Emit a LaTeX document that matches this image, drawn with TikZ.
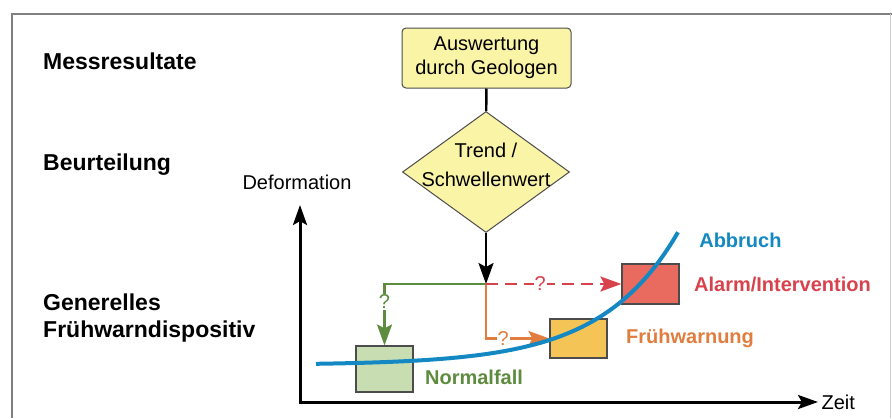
\documentclass[tikz,border=0pt]{standalone}
\usepackage{fontspec}
\setmainfont{Liberation Sans}
\usetikzlibrary{shapes.geometric,arrows.meta,positioning}
\definecolor{boxyellow}{HTML}{FAF4A6}
\definecolor{linegreen}{HTML}{5E8C3E}
\definecolor{fillgreen}{HTML}{C9DDB2}
\definecolor{lineorange}{HTML}{E07D3F}
\definecolor{fillorange}{HTML}{F5C457}
\definecolor{linered}{HTML}{D8424D}
\definecolor{fillred}{HTML}{E96B60}
\definecolor{curveblue}{HTML}{1488C2}
\tikzset{
  txt/.style={font=\fontsize{20}{24}\selectfont},
  rowlabel/.style={font=\fontsize{23}{27}\selectfont\bfseries,anchor=west,align=left,inner sep=0pt},
  statelabel/.style={font=\fontsize{20}{24}\selectfont\bfseries,anchor=west},
  statebox/.style={draw=black!70,line width=1.2pt,minimum width=57pt},
  flow/.style={line width=2.4pt},
  tip/.style={-{Stealth[length=21pt,width=15pt,inset=4pt]}},
  qmark/.style={txt,fill=white,inner sep=1pt}
}
\begin{document}
\begin{tikzpicture}[x=1pt,y=-1pt]
\useasboundingbox (0,0) rectangle (892,418);
\draw[black!50,line width=1.2pt](12,418)--(12,14)--(892,14);
\draw[black!20,line width=1pt](890.5,14)--(890.5,418);
% row titles
\node[rowlabel](mess) at (43,61) {Messresultate};
\node[rowlabel](beur) at (43,165) {Beurteilung};
\node[rowlabel](gen) at (43,318) {Generelles\\Frühwarndispositiv};
% flow chart
\node[txt,draw=black!70,line width=1pt,fill=boxyellow,rounded corners=4pt,
  minimum width=169pt,minimum height=60pt,align=center](eval) at (486.5,58)
  {Auswertung\\durch Geologen};
\node[diamond,draw=black!70,line width=1pt,fill=boxyellow,inner sep=0pt,
  minimum width=167pt,minimum height=121pt,
  label={[txt,align=center,yshift=7pt]center:Trend /\\[5pt]Schwellenwert}](trend) at (486,172) {};
\draw[flow](eval)--(trend);
\coordinate(split) at (486,284);
\draw[flow,tip](trend.south)--(split);
% diagram axes
\coordinate(ytop) at (300,205);
\coordinate(xend) at (818,402);
\draw[line width=3pt,{Stealth[length=20pt,width=14pt,inset=4pt]}-{Stealth[length=20pt,width=14pt,inset=4pt]}]
  (ytop)|-(xend);
\node[txt](deflabel) at (297,182) {Deformation};
\node[txt,anchor=west](zeitlabel) at (xend) {Zeit};
% states
\node[statebox,fill=fillgreen,minimum height=46pt](normal) at (384.5,369) {};
\node[statebox,fill=fillorange,minimum height=39pt](early) at (578.5,338.5) {};
\node[statebox,fill=fillred,minimum height=40pt](alarm) at (650.5,284) {};
\draw[flow,linegreen,tip](split)-|node[qmark,text=linegreen,pos=.645]{?}(normal.north);
\draw[flow,lineorange,tip](split)|-node[qmark,text=lineorange,pos=.635]{?}(early.west);
\draw[flow,linered,dash pattern=on 12pt off 7pt,tip](split)--node[qmark,text=linered,pos=.4]{?}(alarm.west);
\draw[curveblue,line width=4pt]
  plot[domain=0:362,samples=80]({316+\x},{365-1.2*exp(0.013*\x)})
  node[statelabel,text=curveblue,xshift=16pt,yshift=-8pt](abbruch){Abbruch};
\node[statelabel,text=linered,right=11pt of alarm](alarmlabel){Alarm/Intervention};
\node[statelabel,text=lineorange,right=15pt of early](earlylabel){Frühwarnung};
\node[statelabel,text=linegreen,right=8pt of normal,yshift=-8pt](normallabel){Normalfall};
\end{tikzpicture}
\end{document}
